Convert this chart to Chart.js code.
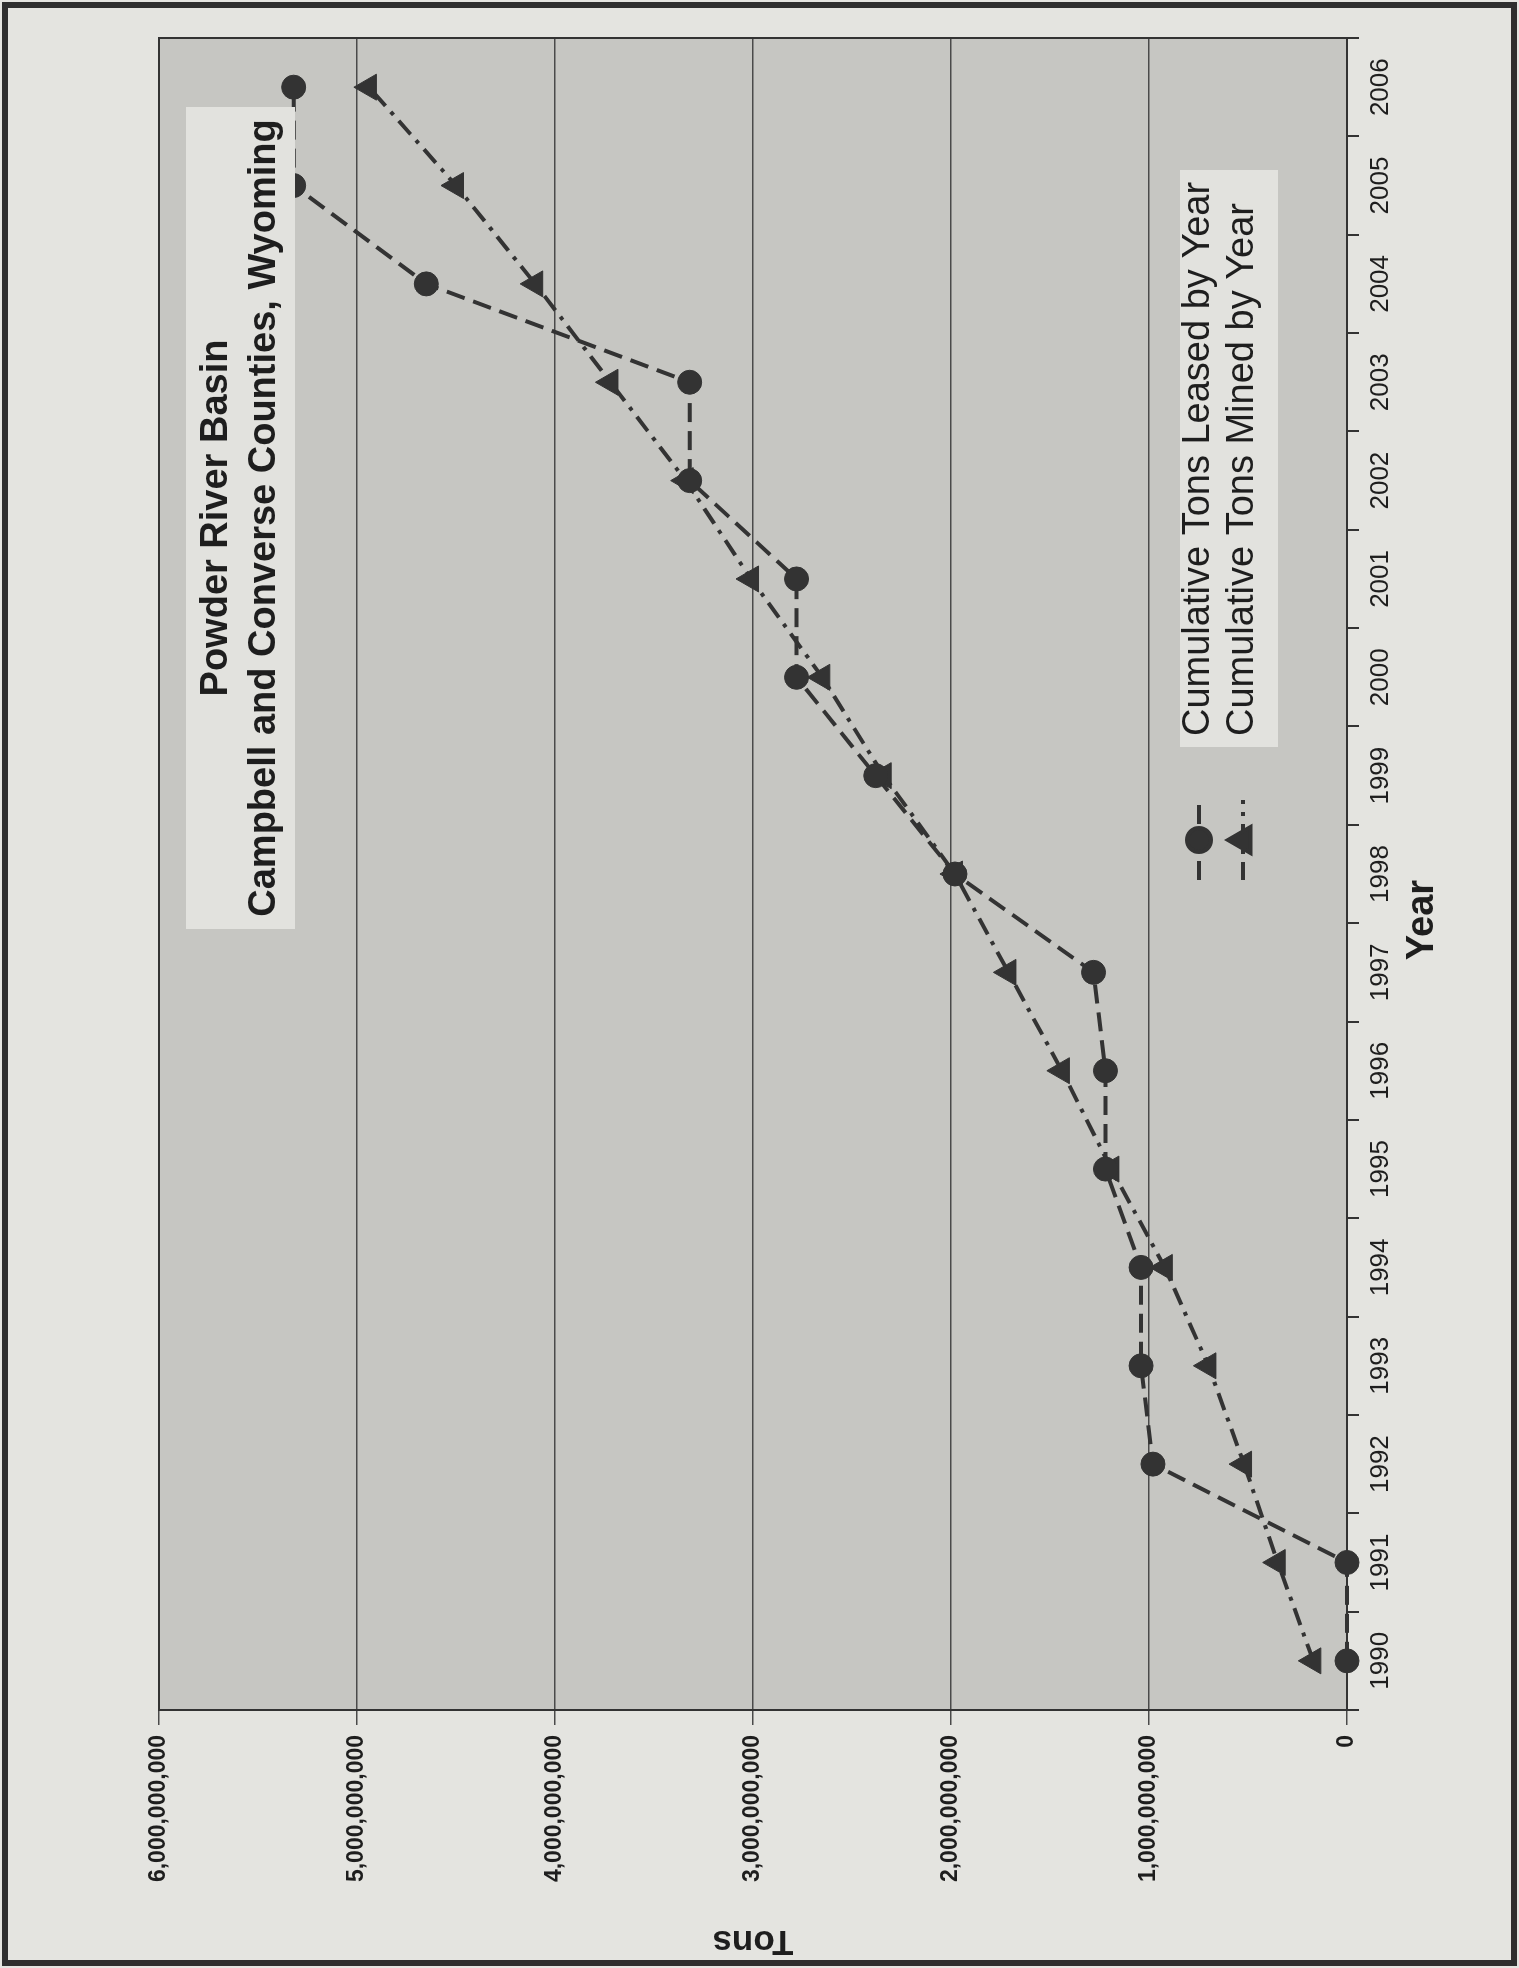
<!DOCTYPE html>
<html>
<head>
<meta charset="utf-8">
<title>Powder River Basin</title>
<script src="https://cdn.jsdelivr.net/npm/chart.js@4/dist/chart.umd.min.js"></script>
<style>
    html, body { margin: 0; padding: 0; background: #e4e4e0; }
    body { width: 1519px; height: 1968px; position: relative; overflow: hidden; }
    #rot { position: absolute; left: 0; top: 1968px; width: 1968px; height: 1519px;
           transform-origin: 0 0; transform: rotate(-90deg); }
    #frame { position: absolute; left: 2px; top: 2px; width: 1515px; height: 1964px;
             border: 6px solid #2e2e2e; box-sizing: border-box; pointer-events: none; }
</style>
</head>
<body>
<div id="rot"><canvas id="chart" width="1968" height="1519"></canvas></div>
<div id="frame"></div>

<script>
// data
const years = ["1990", "1991", "1992", "1993", "1994", "1995", "1996", "1997", "1998",
               "1999", "2000", "2001", "2002", "2003", "2004", "2005", "2006"];
const leasedTons = [0, 0, 0.98e9, 1.04e9, 1.04e9, 1.22e9, 1.22e9, 1.28e9, 1.98e9,
                    2.38e9, 2.78e9, 2.78e9, 3.32e9, 3.32e9, 4.65e9, 5.32e9, 5.32e9];
const minedTons = [0.17e9, 0.35e9, 0.52e9, 0.70e9, 0.92e9, 1.19e9, 1.44e9, 1.71e9, 1.98e9,
                   2.34e9, 2.65e9, 3.01e9, 3.34e9, 3.72e9, 4.10e9, 4.50e9, 4.94e9];
const tonsTickLabels = ["0", "1,000,000,000", "2,000,000,000", "3,000,000,000",
                        "4,000,000,000", "5,000,000,000", "6,000,000,000"];
const titleLines = ["Powder River Basin", "Campbell and Converse Counties, Wyoming"];
const xTitle = "Year";

const INK = "#333333";
const TEXT = "#1e1e1e";
const PLOT_FILL = "#c6c6c2";
const BOX_FILL = "#e2e2de";
const FONT = "'Liberation Sans', Arial, sans-serif";

Chart.defaults.font.family = FONT;
Chart.defaults.color = TEXT;

// grey plot area + frame round it
const plotBox = {
    id: "plotBox",
    beforeDraw(chart) {
        const { ctx, chartArea: a } = chart;
        ctx.save();
        ctx.fillStyle = PLOT_FILL;
        ctx.fillRect(a.left, a.top, a.right - a.left, a.bottom - a.top);
        ctx.restore();
    },
    beforeDatasetsDraw(chart) {
        const { ctx, chartArea: a } = chart;
        ctx.save();
        ctx.strokeStyle = INK;
        ctx.lineWidth = 2;
        ctx.strokeRect(a.left, a.top, a.right - a.left, a.bottom - a.top);
        ctx.restore();
    }
};

// title box, legend and the year title, placed like the Excel original
const insideText = {
    id: "insideText",
    afterDatasetsDraw(chart) {
        const { ctx, chartArea: a } = chart;
        ctx.save();

        // title
        ctx.fillStyle = BOX_FILL;
        ctx.fillRect(a.right - 891, a.top + 27, 822, 109);
        ctx.fillStyle = TEXT;
        ctx.font = "bold 38px " + FONT;
        ctx.textAlign = "center";
        ctx.textBaseline = "middle";
        ctx.fillText(titleLines[0], a.right - 480, a.top + 58);
        ctx.fillText(titleLines[1], a.right - 480, a.top + 106);

        // axis title, sits a bit left of centre in the scan
        ctx.font = "bold 38px " + FONT;
        ctx.fillText(xTitle, (a.left + a.right) / 2 - 46, a.bottom + 76);

        // legend
        ctx.fillStyle = BOX_FILL;
        ctx.fillRect(a.right - 709, a.bottom - 167, 577, 98);
        const rows = [a.bottom - 148, a.bottom - 104];
        ctx.font = "38px " + FONT;
        ctx.textAlign = "left";
        chart.data.datasets.forEach((ds, i) => {
            const y = rows[i];
            ctx.strokeStyle = ds.borderColor;
            ctx.lineWidth = ds.borderWidth;
            ctx.setLineDash(ds.borderDash);
            ctx.beginPath();
            ctx.moveTo(a.right - 842, y);
            ctx.lineTo(a.right - 762, y);
            ctx.stroke();
            ctx.setLineDash([]);
            ctx.fillStyle = ds.pointBackgroundColor;
            ctx.strokeStyle = ds.pointBorderColor;
            Chart.helpers.drawPoint(ctx, {
                pointStyle: ds.pointStyle, radius: ds.pointRadius,
                borderWidth: ds.pointBorderWidth, rotation: 0
            }, a.right - 802, y);
            ctx.fillStyle = TEXT;
            ctx.fillText(ds.label, a.right - 698, y);
        });
        ctx.restore();
    }
};

new Chart(document.getElementById("chart"), {
    type: "line",
    data: {
        labels: years,
        datasets: [
            {
                label: "Cumulative Tons Leased by Year",
                data: leasedTons,
                borderColor: INK,
                backgroundColor: INK,
                borderWidth: 4,
                borderDash: [19, 9],
                pointStyle: "circle",
                pointRadius: 12,
                pointBorderWidth: 1,
                pointBackgroundColor: INK,
                pointBorderColor: INK,
                tension: 0,
                clip: false
            },
            {
                label: "Cumulative Tons Mined by Year",
                data: minedTons,
                borderColor: INK,
                backgroundColor: INK,
                borderWidth: 4,
                borderDash: [18, 8, 4, 8],
                pointStyle: "triangle",
                pointRadius: 15,
                pointBorderWidth: 1,
                pointBackgroundColor: INK,
                pointBorderColor: INK,
                tension: 0,
                clip: false
            }
        ]
    },
    options: {
        responsive: false,
        animation: false,
        devicePixelRatio: 1,
        layout: { padding: { left: 0, top: 159, right: 38, bottom: 0 } },
        plugins: {
            legend: { display: false },
            title: { display: false },
            tooltip: { enabled: false }
        },
        scales: {
            x: {
                type: "category",
                offset: true,
                grid: { offset: true, drawOnChartArea: false, tickLength: 12, color: INK, lineWidth: 2 },
                border: { display: true, color: INK, width: 2 },
                ticks: { font: { size: 26 }, color: TEXT, padding: 6, maxRotation: 0, autoSkip: false },
                afterFit(scale) { scale.height = 172; }
            },
            y: {
                min: 0,
                max: 6e9,
                grid: { color: "#4a4a4a", lineWidth: 1.5, tickLength: 15 },
                border: { display: true, color: INK, width: 2 },
                ticks: {
                    stepSize: 1e9,
                    font: { size: 23, weight: "bold" },
                    color: TEXT,
                    padding: 10,
                    callback: (value, index) => tonsTickLabels[index]
                },
                title: {
                    display: true, text: "Tons", color: TEXT,
                    font: { size: 35, weight: "bold" },
                    padding: { top: 6, bottom: 0 }
                },
                afterFit(scale) { scale.width = 258; }
            }
        }
    },
    plugins: [plotBox, insideText]
});
</script>
</body>
</html>
